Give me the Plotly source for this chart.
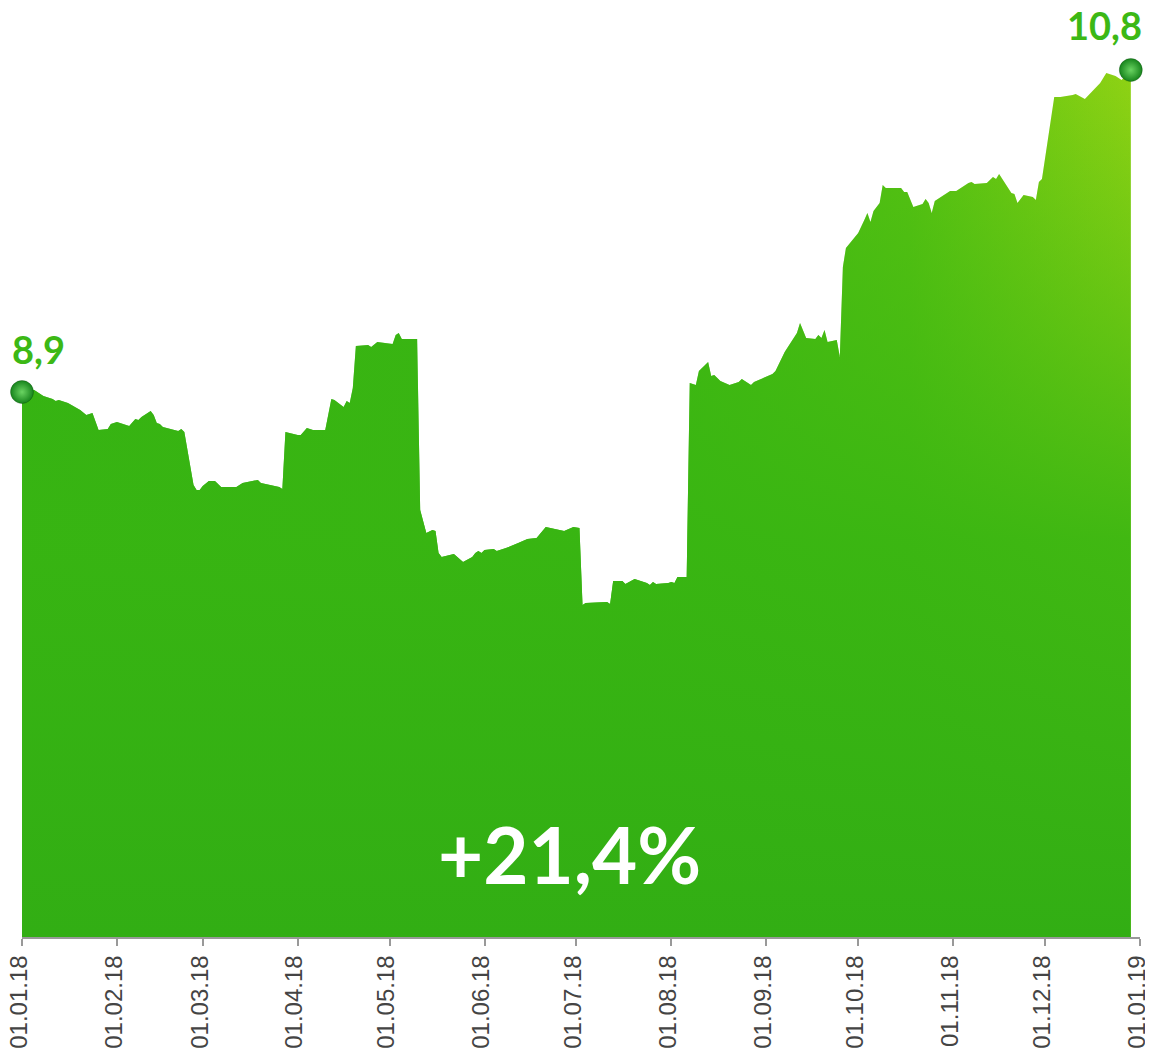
import plotly.graph_objects as go

# Price series (dd.mm.yy axis, comma decimals in labels)
dates = [
    "2018-01-01", "2018-01-05", "2018-01-08", "2018-01-11", "2018-01-12", "2018-01-13",
    "2018-01-16", "2018-01-20", "2018-01-22", "2018-01-24", "2018-01-26", "2018-01-29",
    "2018-01-30", "2018-02-01", "2018-02-05", "2018-02-07", "2018-02-08", "2018-02-09",
    "2018-02-12", "2018-02-13", "2018-02-14", "2018-02-15", "2018-02-16", "2018-02-21",
    "2018-02-22", "2018-02-23", "2018-02-26", "2018-02-27", "2018-02-28", "2018-03-01",
    "2018-03-03", "2018-03-05", "2018-03-07", "2018-03-12", "2018-03-14", "2018-03-17",
    "2018-03-19", "2018-03-20", "2018-03-26", "2018-03-27", "2018-03-28", "2018-04-01",
    "2018-04-02", "2018-04-04", "2018-04-06", "2018-04-10", "2018-04-12", "2018-04-13",
    "2018-04-16", "2018-04-17", "2018-04-18", "2018-04-19", "2018-04-20", "2018-04-24",
    "2018-04-25", "2018-04-27", "2018-05-02", "2018-05-03", "2018-05-04", "2018-05-05",
    "2018-05-10", "2018-05-11", "2018-05-13", "2018-05-15", "2018-05-16", "2018-05-17",
    "2018-05-18", "2018-05-22", "2018-05-25", "2018-05-28", "2018-05-29", "2018-05-30",
    "2018-05-31", "2018-06-01", "2018-06-04", "2018-06-05", "2018-06-08", "2018-06-12",
    "2018-06-15", "2018-06-18", "2018-06-21", "2018-06-27", "2018-06-30", "2018-07-02",
    "2018-07-03", "2018-07-04", "2018-07-11", "2018-07-12", "2018-07-13", "2018-07-16",
    "2018-07-17", "2018-07-20", "2018-07-24", "2018-07-25", "2018-07-26", "2018-07-27",
    "2018-07-31", "2018-08-01", "2018-08-02", "2018-08-03", "2018-08-06", "2018-08-07",
    "2018-08-09", "2018-08-10", "2018-08-13", "2018-08-14", "2018-08-15", "2018-08-17",
    "2018-08-20", "2018-08-23", "2018-08-24", "2018-08-27", "2018-08-28", "2018-09-03",
    "2018-09-04", "2018-09-07", "2018-09-11", "2018-09-12", "2018-09-14", "2018-09-17",
    "2018-09-18", "2018-09-19", "2018-09-20", "2018-09-21", "2018-09-24", "2018-09-25",
    "2018-09-26", "2018-09-27", "2018-09-29", "2018-10-01", "2018-10-03", "2018-10-04",
    "2018-10-05", "2018-10-06", "2018-10-08", "2018-10-09", "2018-10-10", "2018-10-15",
    "2018-10-16", "2018-10-17", "2018-10-19", "2018-10-22", "2018-10-23", "2018-10-24",
    "2018-10-25", "2018-10-26", "2018-10-30", "2018-10-31", "2018-11-02", "2018-11-06",
    "2018-11-07", "2018-11-08", "2018-11-12", "2018-11-14", "2018-11-15", "2018-11-16",
    "2018-11-20", "2018-11-21", "2018-11-22", "2018-11-24", "2018-11-27", "2018-11-28",
    "2018-11-29", "2018-11-30", "2018-12-04", "2018-12-06", "2018-12-10", "2018-12-11",
    "2018-12-14", "2018-12-19", "2018-12-21", "2018-12-24", "2018-12-26", "2018-12-29",
]
price = [
    8.900, 8.912, 8.876, 8.859, 8.847, 8.853,
    8.835, 8.794, 8.764, 8.776, 8.676, 8.682,
    8.711, 8.723, 8.699, 8.741, 8.735, 8.752,
    8.788, 8.764, 8.717, 8.711, 8.693, 8.670,
    8.682, 8.664, 8.351, 8.322, 8.322, 8.345,
    8.375, 8.375, 8.339, 8.339, 8.363, 8.375,
    8.381, 8.363, 8.339, 8.328, 8.664, 8.646,
    8.646, 8.688, 8.676, 8.676, 8.859, 8.853,
    8.811, 8.847, 8.835, 8.924, 9.171, 9.177,
    9.166, 9.195, 9.183, 9.236, 9.248, 9.213,
    9.213, 8.204, 8.068, 8.086, 8.080, 7.950,
    7.926, 7.944, 7.897, 7.926, 7.950, 7.962,
    7.950, 7.968, 7.974, 7.962, 7.979, 8.009,
    8.033, 8.038, 8.103, 8.080, 8.103, 8.097,
    7.643, 7.655, 7.661, 7.649, 7.785, 7.785,
    7.767, 7.797, 7.773, 7.761, 7.779, 7.767,
    7.773, 7.779, 7.773, 7.808, 7.808, 8.953,
    8.941, 9.024, 9.077, 8.994, 9.000, 8.965,
    8.941, 8.959, 8.977, 8.941, 8.959, 9.006,
    9.024, 9.136, 9.248, 9.307, 9.219, 9.213,
    9.236, 9.219, 9.266, 9.195, 9.207, 9.107,
    9.638, 9.750, 9.797, 9.838, 9.915, 9.956,
    9.903, 9.968, 10.015, 10.122, 10.104, 10.104,
    10.080, 10.080, 9.992, 10.009, 10.039, 10.015,
    9.956, 10.027, 10.074, 10.086, 10.086, 10.133,
    10.139, 10.127, 10.133, 10.169, 10.157, 10.186,
    10.074, 10.068, 10.015, 10.062, 10.051, 10.033,
    10.139, 10.157, 10.641, 10.641, 10.653, 10.658,
    10.629, 10.723, 10.782, 10.765, 10.741, 10.800,
]

tick_dates = [
    "2018-01-01", "2018-02-01", "2018-03-01", "2018-04-01", "2018-05-01", "2018-06-01",
    "2018-07-01", "2018-08-01", "2018-09-01", "2018-10-01", "2018-11-01", "2018-12-01",
    "2019-01-01",
]
tick_labels = [
    "01.01.18", "01.02.18", "01.03.18", "01.04.18", "01.05.18", "01.06.18",
    "01.07.18", "01.08.18", "01.09.18", "01.10.18", "01.11.18", "01.12.18",
    "01.01.19",
]

start_label = "8,9"
end_label = "10,8"
change_label = "+21,4%"

GREEN_TEXT = "#3cb815"
Y_MIN, Y_MAX = 5.684, 11.095

fig = go.Figure()

# base fill: green on the left, turning yellow-green towards the right
fig.add_trace(go.Scatter(
    x=dates, y=price,
    mode="lines",
    line=dict(width=0, color="#3ab612"),
    fill="tozeroy",
    fillgradient=dict(
        type="horizontal",
        colorscale=[[0, "#31ae14"], [0.55, "#3cb712"], [0.8, "#58c212"], [1, "#92d314"]],
    ),
    hoverinfo="skip",
    showlegend=False,
))

# overlay: green at the bottom fading out to the top -> diagonal look
fig.add_trace(go.Scatter(
    x=dates, y=price,
    mode="lines",
    line=dict(width=0, color="rgba(0,0,0,0)"),
    fill="tozeroy",
    fillgradient=dict(
        type="vertical",
        start=Y_MIN,
        stop=10.9,
        colorscale=[[0, "rgba(50,174,20,1)"], [0.45, "rgba(56,181,18,0.9)"],
                    [1, "rgba(60,183,18,0)"]],
    ),
    hoverinfo="skip",
    showlegend=False,
))

# glossy end markers
fig.add_trace(go.Scatter(
    x=[dates[0], dates[-1]], y=[price[0], price[-1]],
    mode="markers",
    marker=dict(size=23, color="#17841c",
                gradient=dict(type="radial", color="#6ad462"),
                line=dict(width=1, color="rgba(0,60,0,0.3)")),
    cliponaxis=False,
    hoverinfo="skip",
    showlegend=False,
))

fig.add_annotation(
    x=dates[0], y=price[0], text=start_label, showarrow=False,
    xanchor="left", yanchor="bottom", xshift=-12, yshift=18,
    font=dict(family="Lato", size=38, color=GREEN_TEXT, weight="bold"),
)
fig.add_annotation(
    x=dates[-1], y=price[-1], text=end_label, showarrow=False,
    xanchor="right", yanchor="bottom", xshift=13, yshift=20,
    font=dict(family="Lato", size=38, color=GREEN_TEXT, weight="bold"),
)
fig.add_annotation(
    x=0.49, y=0.09, xref="paper", yref="paper", text=change_label, showarrow=False,
    xanchor="center", yanchor="middle",
    font=dict(family="Lato", size=78, color="white", weight="bold"),
)

# page body has an 8px margin, so the figure is 8px smaller and margins shrink accordingly
fig.update_layout(
    width=1145, height=1040,
    margin=dict(l=14, r=13, t=12, b=111),
    paper_bgcolor="white",
    plot_bgcolor="white",
    showlegend=False,
    xaxis=dict(
        type="date",
        automargin=False,
        ticklabeloverflow="allow",
        ticklabelshift=-3,
        range=[tick_dates[0], tick_dates[-1]],
        tickvals=tick_dates,
        ticktext=tick_labels,
        tickangle=-90,
        ticks="outside",
        ticklen=7,
        tickwidth=1.5,
        tickcolor="#999999",
        showline=True,
        linecolor="#999999",
        linewidth=1.5,
        showgrid=False,
        zeroline=False,
        tickfont=dict(family="Liberation Sans", size=24, color="#444444"),
    ),
    yaxis=dict(
        range=[Y_MIN, Y_MAX],
        visible=False,
        automargin=False,
        showgrid=False,
        zeroline=False,
    ),
)

fig.write_html("out.html")
